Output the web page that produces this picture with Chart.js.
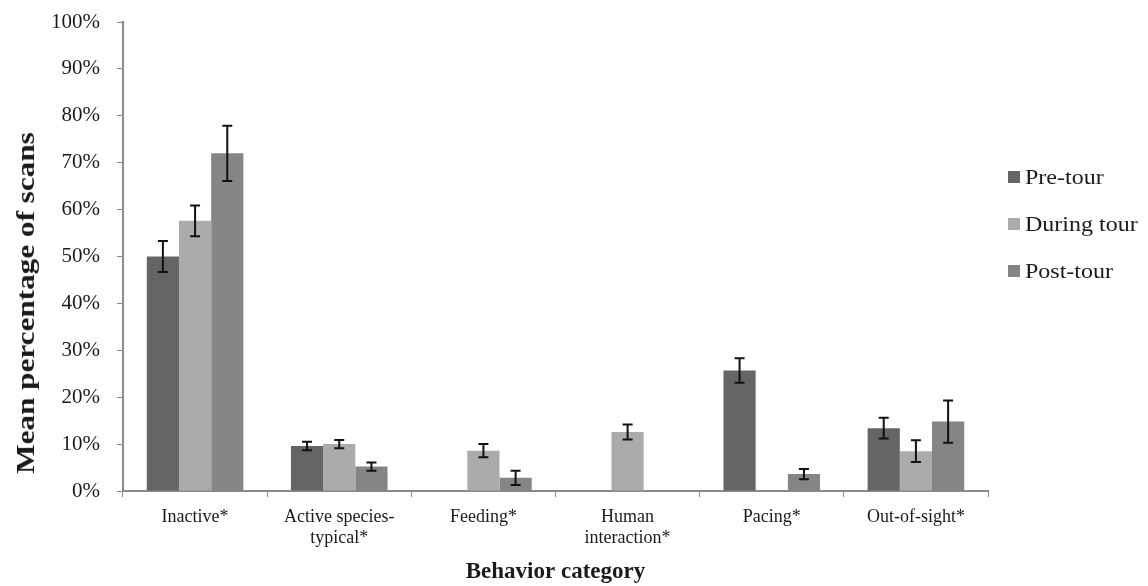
<!DOCTYPE html>
<html>
<head>
<meta charset="utf-8">
<script src="https://cdn.jsdelivr.net/npm/chart.js@4/dist/chart.umd.min.js"></script>
<style>
  html, body { margin: 0; padding: 0; background: #fff; }
  #wrap { position: relative; width: 1148px; height: 586px; }
  #legend { position: absolute; left: 1008px; top: 162px; font-family: "Liberation Serif", serif; font-size: 20px; color: #1a1a1a; }
  #legend div { height: 47px; line-height: 30px; white-space: nowrap; }
  #legend span.box { display: inline-block; width: 12px; height: 12px; margin-right: 5px; vertical-align: 1px; }
  #legend span.txt { display: inline-block; transform: scaleX(1.2); transform-origin: left center; }
  #ytitle { position: absolute; left: 26px; top: 303px; transform: translate(-50%, -50%) rotate(-90deg) scaleX(1.2);
            font-family: "Liberation Serif", serif; font-weight: bold; font-size: 26px; color: #1a1a1a; white-space: nowrap; }
</style>
</head>
<body>
<div id="wrap">
  <canvas id="chart" width="1148" height="586"></canvas>
  <div id="legend"></div>
  <div id="ytitle">Mean percentage of scans</div>
</div>
<script>
const categories = ['Inactive*', ['Active species-', 'typical*'], 'Feeding*', ['Human', 'interaction*'], 'Pacing*', 'Out-of-sight*'];
const seriesNames = ['Pre-tour', 'During tour', 'Post-tour'];
const seriesColors = ['#656565', '#ababab', '#858585'];

const preTour    = [50.0, 9.6, 0, 0, 25.7, 13.4];
const duringTour = [57.6, 10.0, 8.6, 12.6, 0, 8.5];
const postTour   = [72.0, 5.2, 2.8, 0, 3.6, 14.8];

const preErr    = [3.3, 0.9, 0, 0, 2.6, 2.2];
const duringErr = [3.3, 0.9, 1.4, 1.6, 0, 2.3];
const postErr   = [5.9, 0.9, 1.5, 0, 1.1, 4.5];

const yTicks = [0, 10, 20, 30, 40, 50, 60, 70, 80, 90, 100];

const values = [preTour, duringTour, postTour];
const errors = [preErr, duringErr, postErr];

// error bars drawn on top of the bars, from the y scale
const errorBars = {
  id: 'errorBars',
  afterDatasetsDraw(chart) {
    const ctx = chart.ctx;
    const y = chart.scales.y;
    ctx.save();
    ctx.strokeStyle = '#111';
    ctx.lineWidth = 2;
    chart.data.datasets.forEach((ds, i) => {
      const meta = chart.getDatasetMeta(i);
      meta.data.forEach((bar, j) => {
        const e = errors[i][j];
        if (!e) return;
        const top = y.getPixelForValue(ds.data[j] + e);
        const bot = y.getPixelForValue(ds.data[j] - e);
        ctx.beginPath();
        ctx.moveTo(bar.x, top); ctx.lineTo(bar.x, bot);
        ctx.moveTo(bar.x - 5, top); ctx.lineTo(bar.x + 5, top);
        ctx.moveTo(bar.x - 5, bot); ctx.lineTo(bar.x + 5, bot);
        ctx.stroke();
      });
    });
    ctx.restore();
  }
};

const legendEl = document.getElementById('legend');
seriesNames.forEach((name, i) => {
  const row = document.createElement('div');
  row.innerHTML = `<span class="box" style="background:${seriesColors[i]}"></span><span class="txt">${name}</span>`;
  legendEl.appendChild(row);
});

new Chart(document.getElementById('chart'), {
  type: 'bar',
  data: {
    labels: categories,
    datasets: seriesNames.map((name, i) => ({
      label: name,
      data: values[i],
      backgroundColor: seriesColors[i],
      categoryPercentage: 0.67,
      barPercentage: 1.0
    }))
  },
  options: {
    responsive: false,
    animation: false,
    layout: { padding: { top: 22, right: 160, bottom: 0, left: 0 } },
    plugins: {
      legend: { display: false },
      tooltip: { enabled: false }
    },
    scales: {
      x: {
        grid: { drawOnChartArea: false, tickLength: 6, color: '#8a8a8a', lineWidth: 1 },
        border: { color: '#8a8a8a', width: 2 },
        ticks: {
          color: '#1a1a1a',
          font: { family: 'Liberation Serif', size: 18 },
          padding: 9,
          maxRotation: 0
        },
        title: {
          display: true,
          text: 'Behavior category',
          color: '#1a1a1a',
          font: { family: 'Liberation Serif', size: 23, weight: 'bold' },
          padding: { top: 8, bottom: 0 }
        },
        afterFit: scale => { scale.height = 95; }
      },
      y: {
        min: 0,
        max: 100,
        afterBuildTicks: scale => { scale.ticks = yTicks.map(v => ({ value: v })); },
        grid: { drawOnChartArea: false, tickLength: 6, color: '#8a8a8a' },
        border: { color: '#8a8a8a', width: 2 },
        ticks: {
          color: '#1a1a1a',
          font: { family: 'Liberation Serif', size: 21 },
          padding: 17,
          callback: v => v + '%'
        },
        afterFit: scale => { scale.width = 123; scale.paddingTop = 0; scale.paddingBottom = 0; }
      }
    }
  },
  plugins: [errorBars]
});
</script>
</body>
</html>
